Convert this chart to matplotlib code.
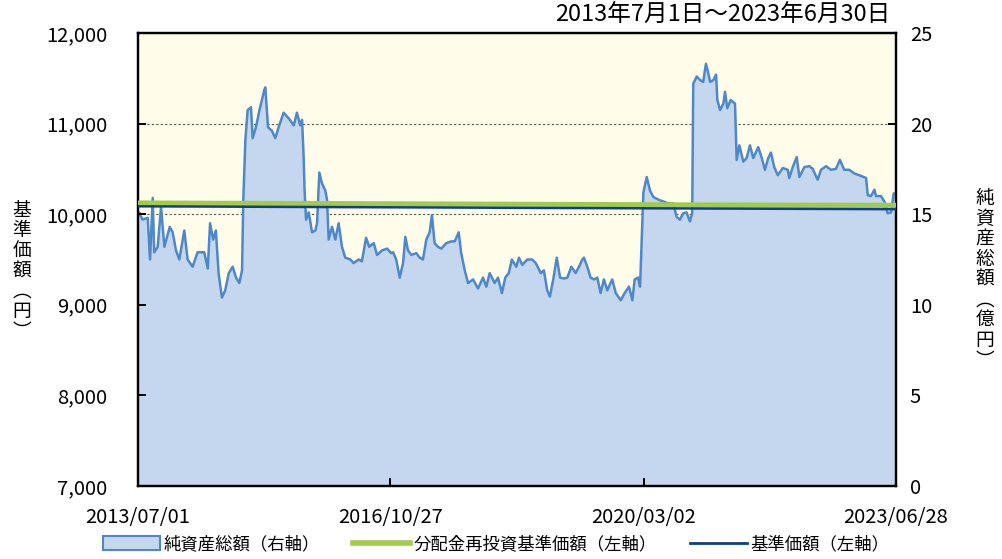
import matplotlib
matplotlib.use("Agg")
import matplotlib.pyplot as plt
from matplotlib.patches import Patch
from matplotlib.lines import Line2D
import pandas as pd

plt.rcParams['font.family'] = ['Noto Sans CJK JP', 'DejaVu Sans']

# 純資産総額 (億円) - days elapsed since 2013/07/01
start_date = "2013-07-01"
elapsed_days = [
    0, 6, 22, 47, 58, 71, 78, 95, 111, 127, 153, 167, 183, 199, 223, 239, 263, 287,
    319, 336, 347, 362, 375, 388, 404, 420, 437, 456, 472, 488, 501, 507, 517, 528,
    544, 552, 568, 584, 608, 613, 626, 645, 661, 677, 701, 725, 750, 765, 781, 790,
    798, 802, 809, 822, 838, 854, 862, 873, 886, 902, 910, 918, 934, 950, 966, 982,
    998, 1022, 1038, 1062, 1078, 1098, 1113, 1135, 1151, 1175, 1199, 1219, 1228,
    1243, 1260, 1276, 1287, 1300, 1316, 1340, 1356, 1372, 1388, 1404, 1415, 1428,
    1444, 1460, 1484, 1508, 1525, 1544, 1556, 1573, 1589, 1613, 1637, 1661, 1677,
    1693, 1717, 1733, 1752, 1768, 1785, 1800, 1821, 1834, 1850, 1874, 1898, 1915,
    1939, 1954, 1970, 1983, 1999, 2016, 2032, 2051, 2067, 2086, 2107, 2123, 2139,
    2147, 2163, 2179, 2195, 2211, 2227, 2243, 2259, 2283, 2300, 2324, 2343, 2364,
    2380, 2391, 2407, 2417, 2423, 2433, 2449, 2465, 2481, 2505, 2529, 2553, 2577,
    2593, 2609, 2625, 2641, 2657, 2668, 2673, 2690, 2706, 2721, 2734, 2745, 2754,
    2770, 2783, 2789, 2802, 2818, 2826, 2837, 2853, 2874, 2882, 2895, 2914, 2930,
    2946, 2962, 2986, 3003, 3018, 3034, 3047, 3063, 3080, 3104, 3128, 3135, 3152,
    3171, 3184, 3208, 3232, 3248, 3272, 3288, 3312, 3336, 3360, 3379, 3400, 3424,
    3448, 3472, 3505, 3513, 3529, 3545, 3553, 3577, 3593, 3609, 3625, 3638, 3649,
]
net_assets = [
    14.9, 15.1, 14.7, 14.8, 12.5, 15.9, 12.9, 13.2, 15.4, 13.2, 14.3, 14.0, 13.0, 12.5,
    14.1, 12.5, 12.1, 12.9, 12.9, 12.0, 14.5, 13.6, 14.1, 11.75, 10.4, 10.8, 11.75,
    12.1, 11.5, 11.2, 11.9, 15.8, 19.1, 20.75, 20.9, 19.2, 19.8, 20.7, 21.85, 22.0,
    19.8, 19.6, 19.2, 19.8, 20.6, 20.3, 19.9, 20.6, 19.9, 20.2, 18.0, 16.3, 14.7,
    15.1, 14.0, 14.1, 14.5, 17.3, 16.7, 16.3, 15.8, 13.6, 14.3, 13.6, 14.5, 13.2,
    12.6, 12.5, 12.3, 12.5, 12.4, 13.7, 13.2, 13.4, 12.75, 13.0, 13.1, 12.85, 12.9,
    12.5, 11.5, 12.3, 13.75, 13.0, 12.75, 12.85, 12.6, 12.5, 13.6, 14.0, 14.95, 13.4,
    13.2, 13.1, 13.4, 13.5, 13.5, 14.0, 12.85, 11.9, 11.2, 11.4, 10.9, 11.5, 11.0,
    11.75, 11.2, 11.5, 10.65, 11.5, 11.75, 12.5, 12.1, 12.6, 12.2, 12.5, 12.5, 12.3,
    11.75, 11.9, 10.8, 10.45, 11.4, 12.6, 11.5, 11.45, 11.5, 12.1, 11.75, 12.1, 12.5,
    12.6, 12.1, 11.5, 11.4, 11.5, 10.65, 11.4, 10.8, 11.4, 10.65, 10.25, 10.65, 11.0,
    10.25, 11.4, 11.5, 11.0, 13.0, 16.2, 17.05, 16.3, 15.95, 15.8, 15.7, 15.6, 15.6,
    14.85, 14.7, 15.05, 15.1, 14.6, 15.05, 22.2, 22.6, 22.4, 22.3, 23.3, 22.8, 22.3,
    22.4, 22.7, 21.3, 20.75, 21.1, 21.75, 20.85, 21.3, 21.1, 18.0, 18.8, 17.9, 18.1,
    18.8, 18.1, 18.7, 18.1, 17.45, 18.1, 18.4, 17.6, 17.15, 17.55, 17.45, 17.0, 17.6,
    18.15, 17.05, 17.6, 17.65, 17.5, 16.9, 17.45, 17.65, 17.45, 17.5, 18.0, 17.45,
    17.45, 17.25, 17.15, 17.0, 16.05, 16.0, 16.35, 16.0, 16.0, 15.7, 15.05, 15.1,
    16.15, 16.1,
]

# 基準価額 / 分配金再投資基準価額 (円), read about once a year
price_dates = ["2013-07-01", "2014-07-01", "2015-07-01", "2016-07-01", "2017-07-03",
               "2018-07-02", "2019-07-01", "2020-07-01", "2021-07-01", "2022-07-01",
               "2023-06-28"]
reinvested_nav = [10124, 10121, 10119, 10116, 10113, 10110, 10107, 10104, 10102, 10100, 10099]
nav = [10087, 10084, 10080, 10077, 10074, 10070, 10067, 10064, 10061, 10058, 10055]

tick_dates = ["2013-07-01", "2016-10-27", "2020-03-02", "2023-06-28"]
tick_labels = ["2013/07/01", "2016/10/27", "2020/03/02", "2023/06/28"]

dates = pd.Timestamp(start_date) + pd.to_timedelta(elapsed_days, unit="D")
pdates = pd.to_datetime(price_dates)

fig = plt.figure(figsize=(10.02, 5.59), dpi=100)
ax = fig.add_axes([0.1377, 0.1306, 0.7565, 0.8104])
ax2 = ax.twinx()

# right axis (behind): background, grid, area
ax.set_zorder(ax2.get_zorder() + 1)
ax.patch.set_visible(False)
ax2.patch.set_visible(True)
ax2.patch.set_facecolor("#FFFDE9")
ax2.fill_between(dates, net_assets, 0, color="#C5D7EE", zorder=2, lw=0)
ax2.plot(dates, net_assets, color="#4E88CA", lw=1.8, zorder=3)
ax2.set_ylim(0, 25)
ax2.set_yticks([0, 5, 10, 15, 20, 25])
ax2.yaxis.grid(True, color="#555555", linestyle=(0, (2, 2)), lw=0.8, zorder=1)
ax2.set_axisbelow(True)

# left axis (front): lines
ax.plot(pdates, reinvested_nav, color="#A2CA4B", lw=3.6, zorder=4)
ax.plot(pdates, nav, color="#0D3F8E", lw=1.8, zorder=5)
ax.set_ylim(7000, 12000)
ax.set_yticks(range(7000, 12001, 1000))
ax.yaxis.set_major_formatter(plt.FuncFormatter(lambda v, p: f"{int(v):,}"))

ax.set_xlim(pd.Timestamp(tick_dates[0]), pd.Timestamp(tick_dates[-1]))
ax.set_xticks(pd.to_datetime(tick_dates))
ax.set_xticklabels(tick_labels)

for a in (ax, ax2):
    for s in a.spines.values():
        s.set_linewidth(1.6)
        s.set_color("black")
ax.tick_params(axis="both", direction="in", length=6, width=1.4, labelsize=14.5)
ax.tick_params(axis="y", pad=22)
ax.tick_params(axis="x", pad=15)
ax2.tick_params(axis="y", direction="in", length=6, width=1.4, labelsize=14.5, pad=10)

fig.text(0.889, 0.972, "2013年7月1日～2023年6月30日", ha="right", va="center", fontsize=17)
fig.text(0.022, 0.515, "\n".join("基準価額︵円︶"), ha="center", va="center",
         fontsize=13.5, linespacing=0.95)
fig.text(0.983, 0.5, "\n".join("純資産総額︵億円︶"), ha="center", va="center",
         fontsize=13.5, linespacing=0.95)

handles = [
    Patch(facecolor="#C5D7EE", edgecolor="#4E88CA", lw=1.5),
    Line2D([0], [0], color="#A2CA4B", lw=4),
    Line2D([0], [0], color="#0D3F8E", lw=2),
]
labels = ["純資産総額（右軸）", "分配金再投資基準価額（左軸）", "基準価額（左軸）"]
fig.legend(handles, labels, loc="center", bbox_to_anchor=(0.495, 0.027), ncol=3,
           frameon=False, fontsize=12.5, handlelength=3.3, handleheight=0.8,
           columnspacing=1.9, handletextpad=0.2)

fig.savefig("out.png", dpi=100)
